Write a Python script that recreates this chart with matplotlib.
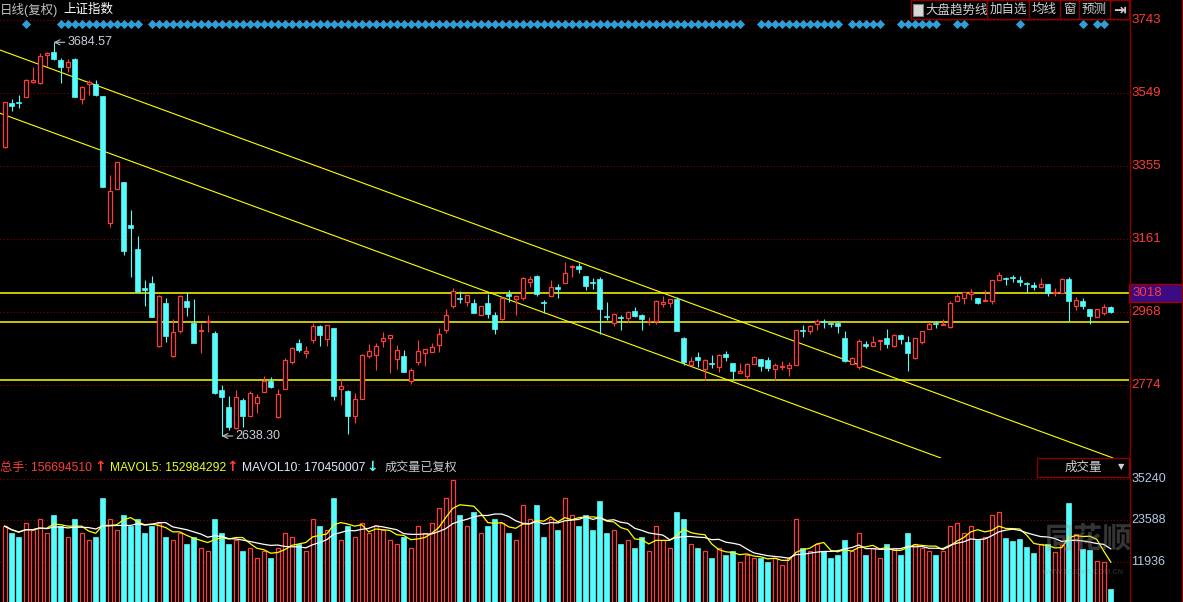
import numpy as np
import pandas as pd
import matplotlib
matplotlib.use('Agg')
import matplotlib.pyplot as plt
from matplotlib.patches import Rectangle
from matplotlib.lines import Line2D

plt.rcParams['font.family'] = ['Liberation Sans', 'Noto Sans CJK SC', 'DejaVu Sans']

# ---- daily OHLC of the index ----
opens = [3407, 3523, 3527, 3540, 3578, 3576, 3651, 3658, 3637, 3620,
         3640, 3534, 3573, 3574, 3542, 3203, 3295, 3312, 3198, 3135,
         3032, 3044, 2877, 2991, 2852, 2918, 2997, 2939, 2916, 2942,
         2911, 2761, 2715, 2659, 2734, 2692, 2725, 2756, 2785, 2690,
         2764, 2836, 2886, 2860, 2893, 2931, 2895, 2924, 2764, 2758,
         2692, 2737, 2852, 2854, 2892, 2900, 2844, 2851, 2785, 2836,
         2860, 2862, 2880, 2920, 2985, 3006, 2994, 2993, 2960, 2993,
         2960, 2948, 3015, 3002, 3006, 3047, 3063, 2994, 3011, 3033,
         3046, 3087, 3091, 3063, 3048, 3055, 2958, 2938, 2955, 2951,
         2971, 2960, 2943, 2945, 2988, 2993, 3002, 2900, 2827, 2849,
         2816, 2831, 2822, 2856, 2831, 2807, 2799, 2830, 2843, 2840,
         2816, 2822, 2820, 2827, 2920, 2916, 2935, 2944, 2938, 2938,
         2900, 2830, 2821, 2883, 2878, 2891, 2900, 2877, 2907, 2887,
         2845, 2889, 2923, 2938, 2934, 2929, 2998, 3004, 3015, 3004,
         2997, 2998, 3053, 3059, 3060, 3053, 3046, 3040, 3033, 3042,
         3017, 3019, 3055, 2985, 2997, 2976, 2955, 2964, 2982]
highs = [3527, 3534, 3544, 3586, 3620, 3655, 3660, 3684.57, 3644, 3639,
         3643, 3568, 3584, 3584, 3543, 3332, 3367, 3313, 3239, 3170,
         3053, 3063, 3012, 3004, 2948, 3012, 3022, 3002, 2938, 2960,
         2916, 2773, 2745, 2761, 2740, 2758, 2749, 2798, 2794, 2763,
         2845, 2876, 2896, 2877, 2938, 2933, 2934, 2926, 2789, 2761,
         2752, 2856, 2883, 2885, 2914, 2907, 2880, 2867, 2818, 2893,
         2870, 2885, 2924, 2975, 3031, 3024, 3014, 3002, 2985, 3016,
         2967, 3008, 3026, 3012, 3060, 3063, 3066, 3000, 3053, 3042,
         3100, 3093, 3097, 3064, 3057, 3060, 2995, 2966, 2960, 2971,
         2980, 2962, 2955, 3000, 3009, 3003, 3007, 2901, 2848, 2861,
         2842, 2854, 2856, 2864, 2832, 2831, 2831, 2851, 2844, 2847,
         2831, 2838, 2836, 2921, 2933, 2932, 2948, 2948, 2938, 2940,
         2916, 2848, 2897, 2890, 2904, 2894, 2922, 2909, 2909, 2904,
         2900, 2918, 2940, 2944, 2948, 2997, 3015, 3021, 3028, 3005,
         3026, 3054, 3073, 3062, 3066, 3063, 3048, 3047, 3057, 3043,
         3031, 3057, 3060, 3007, 3004, 2977, 2977, 2988, 2985]
lows = [3404, 3503, 3511, 3539, 3576, 3574, 3622, 3637, 3577, 3606,
        3539, 3520, 3544, 3543, 3300, 3195, 3294, 3119, 3062, 3021,
        2984, 2954, 2874, 2889, 2849, 2911, 2958, 2885, 2858, 2915,
        2749, 2638.30, 2654, 2656, 2661, 2691, 2700, 2755, 2767, 2687,
        2763, 2830, 2862, 2846, 2886, 2877, 2877, 2734, 2721, 2643,
        2674, 2736, 2846, 2814, 2876, 2806, 2816, 2808, 2776, 2827,
        2824, 2861, 2862, 2913, 2979, 2991, 2984, 2965, 2959, 2951,
        2909, 2947, 2995, 2960, 3000, 3035, 3011, 2964, 3010, 3006,
        3045, 3062, 3072, 3026, 3029, 2909, 2947, 2931, 2920, 2942,
        2955, 2920, 2933, 2936, 2982, 2982, 2917, 2827, 2826, 2822,
        2787, 2818, 2809, 2838, 2787, 2806, 2790, 2829, 2812, 2812,
        2787, 2814, 2799, 2826, 2902, 2909, 2920, 2926, 2929, 2913,
        2836, 2829, 2817, 2871, 2877, 2867, 2873, 2876, 2883, 2812,
        2843, 2883, 2922, 2926, 2932, 2926, 2997, 2989, 3000, 2989,
        2996, 2989, 3052, 3040, 3048, 3037, 3019, 3026, 3032, 3011,
        3009, 3018, 2945, 2973, 2976, 2936, 2954, 2961, 2966]
closes = [3525, 3516, 3522, 3584, 3584, 3648, 3655, 3639, 3618, 3632,
          3540, 3567, 3578, 3544, 3301, 3290, 3366, 3131, 3192, 3022,
          3027, 2955, 3011, 2905, 2915, 3011, 2982, 2886, 2919, 2944,
          2753, 2741, 2661, 2741, 2692, 2752, 2741, 2784, 2769, 2749,
          2840, 2871, 2867, 2864, 2931, 2907, 2933, 2745, 2770, 2692,
          2737, 2854, 2864, 2877, 2900, 2906, 2866, 2809, 2814, 2864,
          2869, 2874, 2909, 2959, 3024, 3002, 3013, 2966, 2984, 2962,
          2923, 3006, 3009, 3011, 3057, 3055, 3015, 2991, 3035, 3029,
          3071, 3090, 3082, 3038, 3045, 2976, 2954, 2962, 2953, 2967,
          2958, 2949, 2945, 2997, 2994, 3002, 2918, 2836, 2838, 2840,
          2840, 2830, 2854, 2847, 2812, 2811, 2829, 2847, 2825, 2820,
          2827, 2824, 2827, 2920, 2917, 2931, 2944, 2941, 2936, 2931,
          2838, 2845, 2890, 2877, 2887, 2893, 2883, 2908, 2896, 2860,
          2898, 2917, 2936, 2936, 2936, 2991, 3010, 3020, 3020, 2993,
          3000, 3053, 3066, 3056, 3057, 3048, 3042, 3033, 3042, 3019,
          3021, 3055, 2998, 3000, 2985, 2958, 2975, 2982, 2969]
volumes = [22000, 20000, 19000, 23000, 21000, 24000, 20000, 25000, 22000, 19000,
           24000, 20000, 18000, 19000, 30000, 24000, 21000, 25000, 22000, 24000,
           20000, 22000, 23000, 19000, 18000, 20000, 17000, 19000, 16000, 15000,
           24000, 20000, 17000, 18000, 15000, 16000, 13000, 15000, 13000, 16000,
           20000, 19000, 17000, 15000, 24000, 22000, 21000, 30000, 18000, 22000,
           19000, 23000, 20000, 22000, 21000, 18000, 17000, 19000, 16000, 22000,
           20000, 23000, 27000, 30000, 35000, 25000, 22000, 26000, 20000, 22000,
           24000, 23000, 20000, 18000, 28000, 24000, 28000, 19000, 24000, 21000,
           30000, 25000, 22000, 25000, 21000, 29000, 20000, 21000, 17000, 18000,
           16000, 19000, 15000, 22000, 18000, 16000, 26000, 24000, 17000, 16000,
           15000, 13000, 16000, 14000, 15000, 12000, 14000, 13000, 13000, 12000,
           13000, 11000, 13000, 24000, 16000, 15000, 17000, 15000, 13000, 14000,
           18000, 15000, 20000, 14000, 16000, 13000, 17000, 16000, 14000, 20000,
           17000, 16000, 15000, 14000, 15000, 22000, 23000, 20000, 22000, 18000,
           19000, 25000, 26000, 18757, 17830, 18390, 16230, 14545, 16900, 16900,
           14825, 16707, 28500, 19796, 15584, 15300, 12214, 12020, 4352]

price_ticks = [3743, 3549, 3355, 3161, 2968, 2774]
vol_ticks = [35240, 23588, 11936]
support_levels = [3018, 2941, 2787]
# channel lines, (day index, price) endpoints
channel_upper = [(-0.67, 3664), (158.3, 2580)]
channel_lower = [(-0.67, 3496), (133.7, 2580)]
signal_days = ([3] + list(range(8, 20)) + list(range(21, 106)) +
               list(range(108, 120)) + list(range(121, 126)) +
               list(range(128, 134)) + [136, 137, 145, 154, 156, 157])
high_day, low_day = 7, 31

RED = '#ff3c3c'
CYAN = '#54fcfc'
YEL = '#ffff00'
GRID = '#8b0000'
W, H = 1183, 602


def fx(x):
    return x / W


def fy(y):
    return 1 - y / H


fig = plt.figure(figsize=(W / 100, H / 100), dpi=100, facecolor='black')

ax = fig.add_axes([0, fy(458), 1129 / W, (458 - 20) / H], facecolor='black')
ax2 = fig.add_axes([0, 0, 1129 / W, (602 - 458) / H], facecolor='black')
for a in (ax, ax2):
    a.set_xlim(-0.671, 160.6)
    a.set_axis_off()
ax.set_ylim(2579.8, 3743.8)
ax2.set_ylim(702, 41137)

idx = np.arange(len(opens))
o = np.array(opens, float)
c = np.array(closes, float)
hi = np.array(highs, float)
lo = np.array(lows, float)
vol = np.array(volumes, float)
up = c >= o
col = np.where(up, RED, CYAN)

# grid
ax.hlines(price_ticks, -0.671, 160.6, colors=GRID, linestyles=(0, (1, 2)), lw=0.8, clip_on=False, zorder=0)
ax2.hlines(vol_ticks, -0.671, 160.6, colors=GRID, linestyles=(0, (1, 2)), lw=0.8, zorder=0)

# candles
ax.vlines(idx, lo, hi, colors=col, lw=0.8, zorder=2)
body_lo = np.minimum(o, c)
body_h = np.maximum(np.abs(c - o), 1.5)
ax.bar(idx[up], body_h[up], bottom=body_lo[up], width=0.62, facecolor='black',
       edgecolor=RED, lw=0.9, zorder=3)
ax.bar(idx[~up], body_h[~up], bottom=body_lo[~up], width=0.68, facecolor=CYAN,
       edgecolor=CYAN, lw=0.5, zorder=3)

# support lines and channel
ax.hlines(support_levels, -0.671, 160.6, colors=YEL, lw=1.1, zorder=1)
for line in (channel_upper, channel_lower):
    ax.plot([p[0] for p in line], [p[1] for p in line], color=YEL, lw=0.8, zorder=1)

# signal diamonds
ax.scatter(signal_days, [0.991] * len(signal_days), marker='D', s=22, color='#2e9ed6',
           linewidths=0, transform=ax.get_xaxis_transform(), clip_on=False, zorder=4)

# extreme labels
LBL = '#c8d0dc'
ax.annotate('%.2f' % hi[high_day], xy=(high_day, hi[high_day]), xytext=(10, 0),
            textcoords='offset points', color=LBL, fontsize=9, va='center',
            arrowprops=dict(arrowstyle='->', color='#c0c0c0', lw=0.8, shrinkA=0, shrinkB=0))
ax.annotate('%.2f' % lo[low_day], xy=(low_day, lo[low_day]), xytext=(10, 0),
            textcoords='offset points', color=LBL, fontsize=9, va='center',
            arrowprops=dict(arrowstyle='->', color='#c0c0c0', lw=0.8, shrinkA=0, shrinkB=0))

# price labels on the right
for p in price_ticks:
    ax.text(1.0022, p, str(p), transform=ax.get_yaxis_transform(), color=RED,
            fontsize=9.5, va='center', ha='left', clip_on=False)
# highlighted level label: box first, text on top of it
fig.add_artist(Rectangle((fx(1129), fy(302)), 54 / W, 18 / H, transform=fig.transFigure,
                         facecolor='#3c0a82', edgecolor='#a00000', lw=1, zorder=2))
lvl_y = ax.transData.transform((0, support_levels[0]))[1] / fig.bbox.height
fig.text(fx(1132), lvl_y, str(support_levels[0]), color=RED, fontsize=9.5,
         va='center', ha='left', zorder=3)

# volume bars and averages
ax2.bar(idx[up], vol[up], width=0.62, facecolor='black', edgecolor=RED, lw=0.9, zorder=2)
ax2.bar(idx[~up], vol[~up], width=0.68, facecolor=CYAN, edgecolor=CYAN, lw=0.5, zorder=2)
s = pd.Series(vol)
ax2.plot(idx, s.rolling(5, min_periods=1).mean(), color=YEL, lw=0.9, zorder=3)
ax2.plot(idx, s.rolling(10, min_periods=1).mean(), color='white', lw=0.9, zorder=3)
for v in vol_ticks:
    ax2.text(1.0022, v, str(v), transform=ax2.get_yaxis_transform(), color='#b4c8e6',
             fontsize=9, va='center', ha='left', clip_on=False)

# faint watermark
fig.text(fx(1045), fy(540), '同花顺', color='#9a9a9a', alpha=0.35, fontsize=21,
         fontweight='bold', style='italic', va='center', zorder=5)
fig.text(fx(1042), fy(573), 'WWW.10JQKA.COM.CN', color='#9a9a9a', alpha=0.35,
         fontsize=5.3, va='center', zorder=5)

# frame lines
fig.add_artist(Line2D([fx(1129.5)] * 2, [0, 1], color='#8b0000', lw=1))
fig.add_artist(Line2D([fx(1181.5)] * 2, [0, 1], color='#8b0000', lw=1))

# header
fig.text(fx(0), fy(10), '日线(复权)', color='#c0c0c0', fontsize=9, va='center')
fig.text(fx(63), fy(10), '上证指数', color='white', fontsize=9, va='center')
fig.add_artist(Rectangle((fx(911), fy(19)), (1129 - 911) / W, 19 / H, transform=fig.transFigure,
                         facecolor='black', edgecolor='#8b0000', lw=1))
for xs in (987, 1029, 1060, 1079, 1110):
    fig.add_artist(Line2D([fx(xs)] * 2, [fy(0), fy(19)], color='#8b0000', lw=1))
fig.add_artist(Rectangle((fx(913), fy(16)), 10 / W, 12 / H, transform=fig.transFigure,
                         facecolor='#d8d8d8', edgecolor='#808080', lw=0.8))
for xs, t in [(925, '大盘趋势线'), (990, '加自选'), (1032, '均线'), (1063, '窗'), (1082, '预测')]:
    fig.text(fx(xs), fy(10), t, color='#d0d0d0', fontsize=9, va='center')
fig.text(fx(1113), fy(10), '⇥', color='#d0d0d0', fontsize=11, va='center',
         family=['DejaVu Sans'], fontweight='bold')

# volume header
fig.text(fx(0), fy(468), '总手: 156694510', color=RED, fontsize=8.7, va='center')
fig.text(fx(94), fy(467), '↑', color=RED, fontsize=10, va='center', fontweight='bold',
         family=['DejaVu Sans'])
fig.text(fx(110), fy(468), 'MAVOL5: 152984292', color='#e8ff20', fontsize=8.7, va='center')
fig.text(fx(226), fy(467), '↑', color=RED, fontsize=10, va='center', fontweight='bold',
         family=['DejaVu Sans'])
fig.text(fx(242), fy(468), 'MAVOL10: 170450007', color='#e0e8ff', fontsize=8.7, va='center')
fig.text(fx(366), fy(467), '↓', color=CYAN, fontsize=10, va='center', fontweight='bold',
         family=['DejaVu Sans'])
fig.text(fx(385), fy(468), '成交量已复权', color='#c8c8c8', fontsize=8.7, va='center')
fig.add_artist(Rectangle((fx(1037), fy(477)), 92 / W, 19 / H, transform=fig.transFigure,
                         facecolor='black', edgecolor='#8b0000', lw=1))
fig.text(fx(1083), fy(468), '成交量', color='#d0d0d0', fontsize=9, va='center', ha='center')
fig.text(fx(1121), fy(467), '▼', color='#d0d0d0', fontsize=6, va='center', ha='center',
         family=['DejaVu Sans'])

fig.savefig('out.png', dpi=100, facecolor='black')
